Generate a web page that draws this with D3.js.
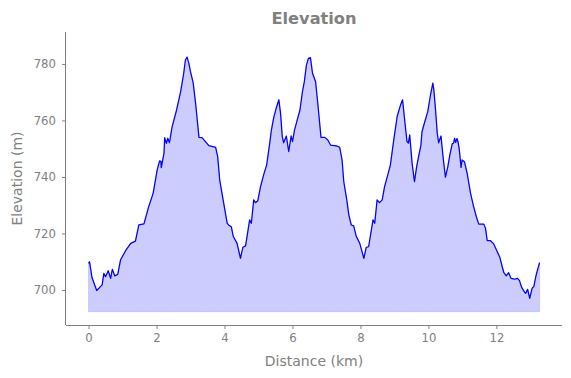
<!DOCTYPE html>
<html>
<head>
<meta charset="utf-8">
<script src="https://cdn.jsdelivr.net/npm/d3@7"></script>
<style>
  html, body { margin: 0; padding: 0; background: #fff; }
  svg { display: block; font-family: "DejaVu Sans", sans-serif; }
</style>
</head>
<body>
<svg id="chart" width="571" height="378"></svg>
<script>
// Data (distance km, elevation m)
const distance = [
  0.00, 0.03, 0.10, 0.24, 0.40, 0.45, 0.50, 0.58, 0.65, 0.70, 0.77, 0.86, 0.94, 1.09, 1.24, 1.38,
  1.48, 1.63, 1.77, 1.90, 2.02, 2.09, 2.13, 2.14, 2.22, 2.24, 2.29, 2.33, 2.38, 2.46, 2.59, 2.71,
  2.80, 2.85, 2.90, 2.95, 3.00, 3.08, 3.15, 3.25, 3.34, 3.44, 3.54, 3.74, 3.80, 3.86, 3.96, 4.08,
  4.12, 4.20, 4.26, 4.37, 4.47, 4.54, 4.62, 4.74, 4.79, 4.86, 4.91, 4.98, 5.06, 5.16, 5.24, 5.33,
  5.38, 5.45, 5.52, 5.60, 5.65, 5.70, 5.74, 5.82, 5.89, 5.96, 6.00, 6.06, 6.14, 6.22, 6.29, 6.35,
  6.41, 6.47, 6.53, 6.59, 6.68, 6.74, 6.84, 6.95, 7.04, 7.12, 7.29, 7.39, 7.46, 7.51, 7.59, 7.66,
  7.73, 7.80, 7.88, 7.98, 8.10, 8.17, 8.24, 8.37, 8.42, 8.49, 8.56, 8.64, 8.71, 8.79, 8.88, 8.98,
  9.08, 9.18, 9.24, 9.29, 9.37, 9.41, 9.45, 9.52, 9.59, 9.65, 9.71, 9.78, 9.81, 9.88, 9.98, 10.06,
  10.13, 10.16, 10.21, 10.26, 10.30, 10.37, 10.43, 10.50, 10.57, 10.63, 10.70, 10.74, 10.77, 10.80,
  10.84, 10.87, 10.91, 10.96, 10.99, 11.06, 11.14, 11.24, 11.33, 11.41, 11.48, 11.63, 11.68, 11.73,
  11.82, 11.92, 12.00, 12.10, 12.17, 12.22, 12.29, 12.36, 12.43, 12.53, 12.62, 12.68, 12.74, 12.82,
  12.86, 12.92, 12.98, 13.05, 13.10, 13.17, 13.21, 13.27
];
const elevation = [
  709.4, 710.0, 704.5, 699.8, 701.8, 705.9, 704.7, 706.8, 704.1, 707.3, 705.0, 705.5, 710.6, 713.9, 716.5, 717.3,
  723.0, 723.4, 729.5, 734.2, 742.5, 745.7, 745.5, 743.3, 748.4, 753.9, 751.9, 753.7, 752.1, 757.8, 763.7, 770.2,
  776.7, 781.4, 782.4, 780.3, 777.3, 773.2, 766.1, 754.0, 753.9, 752.5, 751.1, 750.5, 747.2, 738.9, 731.9, 723.6,
  723.0, 722.4, 718.9, 716.5, 711.2, 715.1, 715.6, 724.8, 723.6, 731.9, 730.9, 731.6, 736.6, 741.1, 744.2, 751.9,
  756.6, 761.1, 764.3, 767.3, 762.5, 754.3, 752.1, 754.5, 749.0, 754.5, 752.5, 756.6, 760.2, 763.7, 769.9, 773.8,
  779.6, 782.0, 782.2, 776.7, 773.8, 766.7, 754.0, 754.0, 753.1, 751.3, 751.0, 750.5, 746.0, 738.3, 732.5, 726.5,
  723.0, 722.7, 718.9, 716.5, 711.2, 715.1, 715.3, 724.8, 723.6, 731.9, 730.9, 731.9, 736.6, 740.1, 744.2, 753.1,
  761.4, 765.5, 767.3, 761.4, 752.5, 752.0, 754.9, 744.8, 738.3, 743.4, 747.2, 751.3, 756.0, 759.0, 763.1, 769.0,
  773.2, 770.8, 763.7, 755.5, 752.1, 754.5, 747.2, 739.9, 743.6, 747.8, 751.7, 752.0, 753.7, 752.2,
  753.6, 752.5, 749.6, 743.4, 746.0, 745.4, 741.3, 734.2, 729.5, 725.9, 723.3, 723.3, 721.8, 717.5,
  717.5, 716.3, 714.2, 711.6, 708.3, 706.1, 705.0, 706.1, 704.1, 703.8, 704.1, 703.3, 701.0, 699.4,
  698.8, 700.2, 697.0, 700.6, 701.2, 705.3, 707.1, 709.7
];
const baseline = 692.3;
const xTicks = [0, 2, 4, 6, 8, 10, 12];
const yTicks = [700, 720, 740, 760, 780];
const titleText = "Elevation";
const xLabel = "Distance (km)";
const yLabel = "Elevation (m)";

const data = distance.map((d, i) => ({ d, e: elevation[i] }));

const svg = d3.select("#chart");
const M = { left: 66, right: 562, top: 32, bottom: 325 };
const x = d3.scaleLinear().domain([-0.663, 13.93]).range([M.left, M.right]);
const y = d3.scaleLinear().domain([687.6, 791.3]).range([M.bottom, M.top]);
const gray = "#808080";

// area
const area = d3.area().x(p => x(p.d)).y0(y(baseline)).y1(p => y(p.e));
svg.append("path").datum(data)
  .attr("d", area)
  .attr("fill", "rgba(0,0,255,0.2)")
  .attr("stroke", "rgba(0,0,255,0.12)")
  .attr("stroke-width", 1);

// line
const line = d3.line().x(p => x(p.d)).y(p => y(p.e));
svg.append("path").datum(data)
  .attr("d", line)
  .attr("fill", "none")
  .attr("stroke", "#0000ff")
  .attr("stroke-width", 1.25)
  .attr("stroke-linejoin", "round");

// axes
const xAxis = d3.axisBottom(x).tickValues(xTicks).tickFormat(d3.format("d")).tickSize(4).tickPadding(5);
const yAxis = d3.axisLeft(y).tickValues(yTicks).tickFormat(d3.format("d")).tickSize(4).tickPadding(6);

const gx = svg.append("g").attr("transform", `translate(0,${M.bottom})`).call(xAxis);
const gy = svg.append("g").attr("transform", `translate(${M.left},0)`).call(yAxis);
[gx, gy].forEach(g => {
  g.select(".domain").attr("stroke", gray).attr("stroke-width", 1);
  g.selectAll(".tick line").attr("stroke", gray).attr("stroke-width", 1);
  g.selectAll(".tick text").attr("fill", gray).style("font-size", "11.7px").style("font-family", "DejaVu Sans");
});
gx.select(".domain").attr("d", `M${M.left},0.5H${M.right}`);
gy.select(".domain").attr("d", `M-0.5,${M.bottom}V${M.top}`);

// title
svg.append("text")
  .attr("x", (M.left + M.right) / 2).attr("y", 24)
  .attr("text-anchor", "middle")
  .attr("fill", gray)
  .style("font-size", "16.2px").style("font-weight", "bold")
  .text(titleText);

// axis labels
svg.append("text")
  .attr("x", (M.left + M.right) / 2).attr("y", 366)
  .attr("text-anchor", "middle").attr("fill", gray)
  .style("font-size", "14px")
  .text(xLabel);

svg.append("text")
  .attr("transform", `translate(22,${(M.top + M.bottom) / 2}) rotate(-90)`)
  .attr("text-anchor", "middle").attr("fill", gray)
  .style("font-size", "14px")
  .text(yLabel);
</script>
</body>
</html>
